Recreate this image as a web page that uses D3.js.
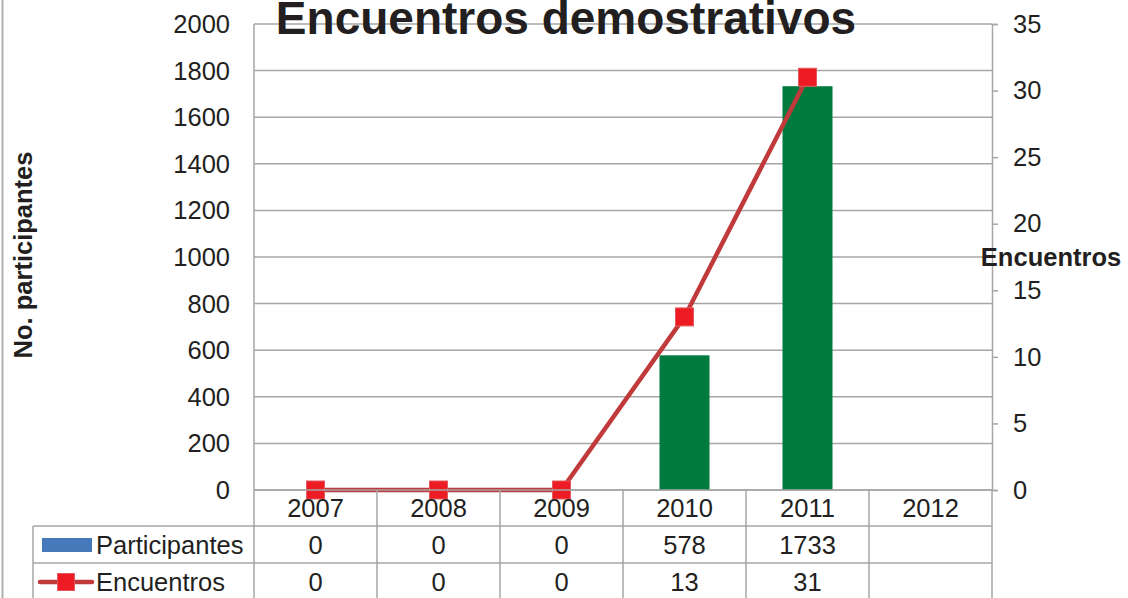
<!DOCTYPE html>
<html><head><meta charset="utf-8">
<script src="https://cdn.jsdelivr.net/npm/d3@7"></script>
<style>body{margin:0;background:#fff}svg{display:block;font-family:"Liberation Sans",Arial,sans-serif}</style>
</head><body>
<svg id="c" width="1128" height="598"></svg>
<script>
const years = ["2007","2008","2009","2010","2011","2012"];
const participantes = [0,0,0,578,1733,null];
const encuentros = [0,0,0,13,31,null];
const leftTicks = [0,200,400,600,800,1000,1200,1400,1600,1800,2000];
const rightTicks = [0,5,10,15,20,25,30,35];

const svg = d3.select("#c");
const L=254, R=992, T=24, B=490;
const x = d3.scaleBand().domain(years).range([L,R]);
const yL = d3.scaleLinear().domain([0,2000]).range([B,T]);
const yR = d3.scaleLinear().domain([0,35]).range([B,T]);
const grid="#a6a6a6";
const FS=25.5;

// outer chart border (left edge)
svg.append("line").attr("x1",2.5).attr("x2",2.5).attr("y1",0).attr("y2",598).attr("stroke","#b0b0b0").attr("stroke-width",2);

// gridlines
svg.append("g").selectAll("line").data(leftTicks).join("line")
  .attr("x1",L).attr("x2",R).attr("y1",d=>yL(d)).attr("y2",d=>yL(d))
  .attr("stroke",grid).attr("stroke-width",1.5);
svg.append("line").attr("x1",L).attr("x2",L).attr("y1",T).attr("y2",B).attr("stroke",grid).attr("stroke-width",1.5);
svg.append("g").selectAll("text").data(leftTicks).join("text")
  .attr("x",230).attr("y",d=>yL(d)+9).attr("text-anchor","end")
  .attr("font-size",FS).attr("fill","#231f20").text(d=>d);

// right axis
const ra = svg.append("g").attr("transform",`translate(${R},0)`)
  .call(d3.axisRight(yR).tickValues(rightTicks).tickSize(6).tickPadding(15));
ra.select(".domain").attr("stroke",grid).attr("stroke-width",1.5);
ra.selectAll(".tick line").attr("stroke",grid).attr("stroke-width",1.5);
ra.selectAll(".tick text").attr("font-size",FS).attr("fill","#231f20").attr("font-family","Liberation Sans, Arial, sans-serif");

// bars
const bw = 50;
svg.append("g").selectAll("rect").data(years.map((y,i)=>({y,v:participantes[i]})).filter(d=>d.v!=null && d.v>0)).join("rect")
  .attr("x",d=>x(d.y)+x.bandwidth()/2-bw/2).attr("width",bw)
  .attr("y",d=>yL(d.v)).attr("height",d=>B-yL(d.v)).attr("fill","#007a3d");

// line
const pts = years.map((y,i)=>({y,v:encuentros[i]})).filter(d=>d.v!=null);
const cx = d=>x(d.y)+x.bandwidth()/2;
svg.append("path").datum(pts)
  .attr("d",d3.line().x(cx).y(d=>yR(d.v)))
  .attr("fill","none").attr("stroke","#c0393b").attr("stroke-width",4.5);
svg.append("g").selectAll("rect").data(pts).join("rect")
  .attr("x",d=>cx(d)-9).attr("y",d=>yR(d.v)-9).attr("width",18).attr("height",18)
  .attr("fill","#ed1c24").attr("stroke","#e25a5f").attr("stroke-width",1);

// table
const tl = svg.append("g").attr("stroke",grid).attr("stroke-width",1.5);
tl.append("line").attr("x1",L).attr("x2",R).attr("y1",B).attr("y2",B);
[526,563].forEach(yy=>tl.append("line").attr("x1",33).attr("x2",R).attr("y1",yy).attr("y2",yy));
years.forEach(y=>{ tl.append("line").attr("x1",x(y)).attr("x2",x(y)).attr("y1",B).attr("y2",598); });
tl.append("line").attr("x1",R).attr("x2",R).attr("y1",B).attr("y2",598);
tl.append("line").attr("x1",33).attr("x2",33).attr("y1",526).attr("y2",598);

const tt = svg.append("g").attr("font-size",FS).attr("fill","#231f20").attr("text-anchor","middle");
years.forEach((y,i)=>{
  const c = x(y)+x.bandwidth()/2;
  tt.append("text").attr("x",c).attr("y",517).text(y);
  if(participantes[i]!=null) tt.append("text").attr("x",c).attr("y",554).text(participantes[i]);
  if(encuentros[i]!=null) tt.append("text").attr("x",c).attr("y",591).text(encuentros[i]);
});
// legend keys
svg.append("rect").attr("x",42).attr("y",538).attr("width",50).attr("height",14).attr("fill","#4579b9");
svg.append("text").attr("x",96).attr("y",554).attr("font-size",FS).attr("fill","#231f20").text("Participantes");
svg.append("line").attr("x1",40).attr("x2",92).attr("y1",582).attr("y2",582).attr("stroke","#c0393b").attr("stroke-width",4.5).attr("stroke-linecap","round");
svg.append("rect").attr("x",57.5).attr("y",573.5).attr("width",17).attr("height",17).attr("fill","#ed1c24").attr("stroke","#e25a5f");
svg.append("text").attr("x",96).attr("y",591).attr("font-size",FS).attr("fill","#231f20").text("Encuentros");

// titles
svg.append("text").attr("x",566).attr("y",34).attr("text-anchor","middle").attr("font-size",46).attr("font-weight","bold").attr("fill","#231f20").text("Encuentros demostrativos");
svg.append("text").attr("transform","translate(32,255) rotate(-90)").attr("text-anchor","middle").attr("font-size",25.5).attr("font-weight","bold").attr("fill","#231f20").text("No. participantes");
svg.append("text").attr("x",1051).attr("y",266).attr("text-anchor","middle").attr("font-size",25.5).attr("font-weight","bold").attr("fill","#231f20").text("Encuentros");
</script>
</body></html>
